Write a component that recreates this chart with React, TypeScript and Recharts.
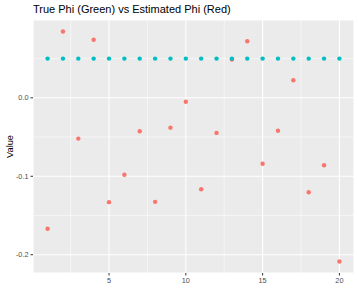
import React from "react";
import { ScatterChart, Scatter, XAxis, YAxis, CartesianGrid, ReferenceLine } from "recharts";

const indices = [1, 2, 3, 4, 5, 6, 7, 8, 9, 10, 11, 12, 13, 14, 15, 16, 17, 18, 19, 20];
const truePhi = [0.05, 0.05, 0.05, 0.05, 0.05, 0.05, 0.05, 0.05, 0.05, 0.05, 0.05, 0.05, 0.05, 0.05, 0.05, 0.05, 0.05, 0.05, 0.05, 0.05];
const estPhi = [-0.1668, 0.0845, -0.052, 0.074, -0.133, -0.098, -0.0426, -0.1326, -0.038, -0.005, -0.1166, -0.0447, 0.0487, 0.0722, -0.084, -0.042, 0.0224, -0.1204, -0.086, -0.2086];
const xTicks = [5, 10, 15, 20];
const xMinor = [2.5, 7.5, 12.5, 17.5];
const yTicks = [-0.2, -0.1, 0.0];
const yMinor = [-0.15, -0.05, 0.05];

const trueData = indices.map((x, i) => ({ x, y: truePhi[i] }));
const estData = indices.map((x, i) => ({ x, y: estPhi[i] }));

const FONT = "'Liberation Sans', Arial, sans-serif";
const xDomain = [0.05, 20.95];
const yDomain = [-0.2233, 0.0992];

const dot = (color: string) => (props: any) => (
  <circle cx={props.cx} cy={props.cy} r={2.2} fill={color} />
);

export default function App() {
  return (
    <div style={{ position: "absolute", left: 0, top: 0, width: 358, height: 288, background: "#fff" }}>
      <ScatterChart width={358} height={288} margin={{ top: 20, right: 4, bottom: 0, left: 0 }}>
        <CartesianGrid fill="#EBEBEB" stroke="#FFFFFF" strokeWidth={1.07} />
        <XAxis
          type="number"
          dataKey="x"
          domain={xDomain}
          ticks={xTicks}
          allowDataOverflow
          axisLine={false}
          tickLine={{ stroke: "#333333", strokeWidth: 1 }}
          tickSize={2.5}
          tickMargin={2}
          height={15}
          tick={{ fill: "#4D4D4D", fontSize: 7.3, fontFamily: FONT }}
        />
        <YAxis
          type="number"
          dataKey="y"
          domain={yDomain}
          ticks={yTicks}
          allowDataOverflow
          axisLine={false}
          tickLine={{ stroke: "#333333", strokeWidth: 1 }}
          tickSize={2.5}
          tickMargin={2}
          width={33}
          tickFormatter={(v: number) => v.toFixed(1)}
          tick={{ fill: "#4D4D4D", fontSize: 7.3, fontFamily: FONT }}
        />
        {xMinor.map((v) => (
          <ReferenceLine key={"xm" + v} x={v} stroke="#FFFFFF" strokeWidth={0.53} />
        ))}
        {yMinor.map((v) => (
          <ReferenceLine key={"ym" + v} y={v} stroke="#FFFFFF" strokeWidth={0.53} />
        ))}
        <Scatter data={estData} fill="#F8766D" shape={dot("#F8766D")} isAnimationActive={false} />
        <Scatter data={trueData} fill="#00BFC4" shape={dot("#00BFC4")} isAnimationActive={false} />
      </ScatterChart>
      <svg width={358} height={288} style={{ position: "absolute", left: 0, top: 0, pointerEvents: "none" }}>
        <text x={33} y={13.2} fontSize={11} fill="#000000" fontFamily={FONT}>
          True Phi (Green) vs Estimated Phi (Red)
        </text>
        <text
          x={13}
          y={146.5}
          fontSize={9.2}
          fill="#000000"
          fontFamily={FONT}
          textAnchor="middle"
          transform="rotate(-90 13 146.5)"
        >
          Value
        </text>
      </svg>
    </div>
  );
}
